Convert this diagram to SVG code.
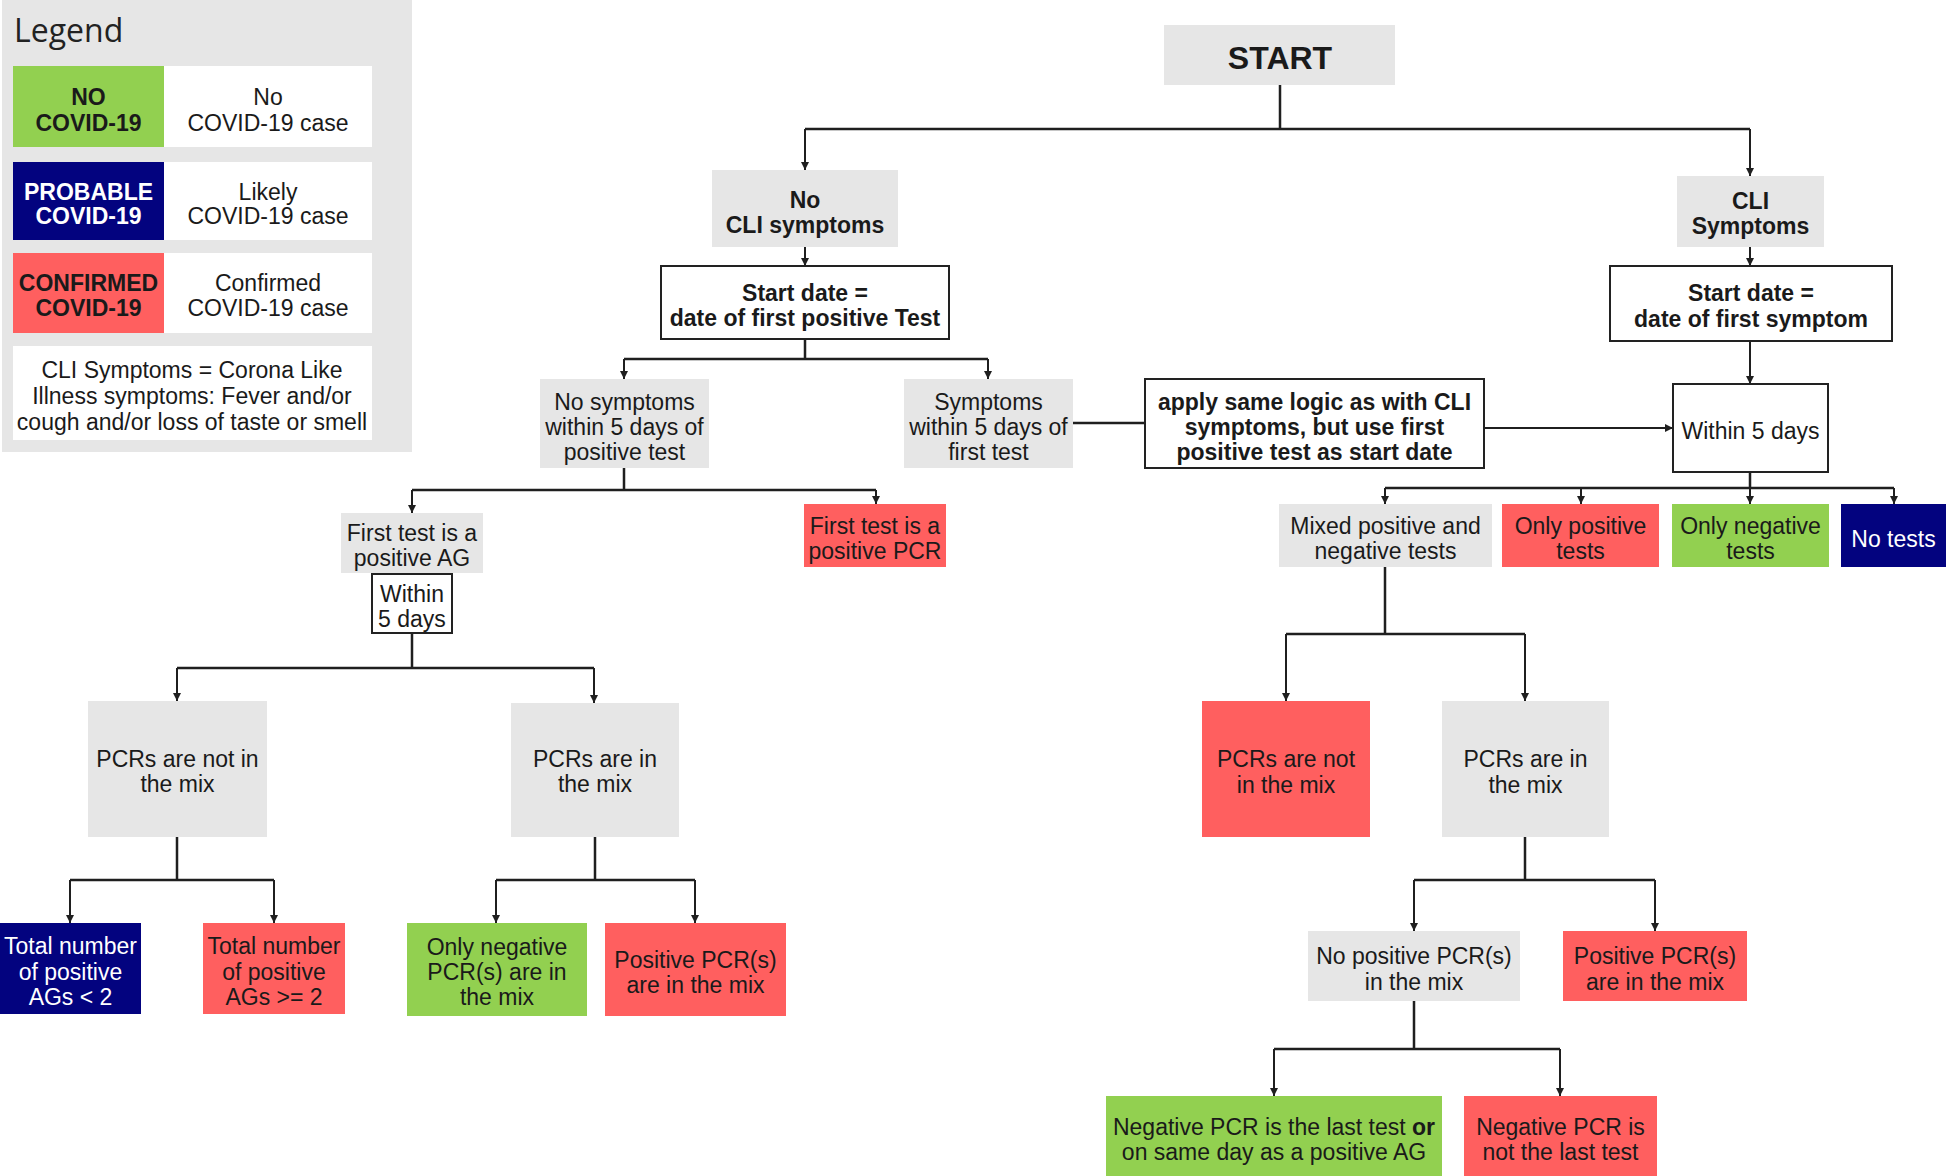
<svg xmlns="http://www.w3.org/2000/svg" width="1946" height="1176" viewBox="0 0 1946 1176">
<defs>
<marker id="ah" markerUnits="userSpaceOnUse" markerWidth="10" markerHeight="10" refX="8" refY="4" orient="auto">
<path d="M0,0 L8,4 L0,8 Z" fill="#1f1f1f"/>
</marker>
<style>
.t{font-family:"Liberation Sans",Arial,sans-serif;font-size:23px;fill:#1a1a1a;text-anchor:middle}
.b{font-weight:bold}
.w{fill:#ffffff}
.grey{fill:#e6e6e6}
.red{fill:#ff5f5f}
.green{fill:#92d050}
.navy{fill:#03037f}
.white{fill:#ffffff}
.box{fill:#ffffff;stroke:#222222;stroke-width:2}
.c{fill:none;stroke:#1f1f1f;stroke-width:2.5}
.a{fill:none;stroke:#1f1f1f;stroke-width:2;marker-end:url(#ah)}
</style>
</defs>
<rect width="1946" height="1176" fill="#ffffff"/>

<g id="legend">
<rect x="2" y="0" width="410" height="452" fill="#e6e6e6"/>
<text x="14" y="42" style="font-family:'Open Sans',sans-serif;font-size:32px;fill:#222">Legend</text>
<rect class="green" x="13" y="66" width="151" height="81"/>
<rect class="white" x="164" y="66" width="208" height="81"/>
<text class="t b" x="88.5" y="105">NO</text>
<text class="t b" x="88.5" y="131">COVID-19</text>
<text class="t" x="268" y="105">No</text>
<text class="t" x="268" y="131">COVID-19 case</text>
<rect class="navy" x="13" y="162" width="151" height="78"/>
<rect class="white" x="164" y="162" width="208" height="78"/>
<text class="t b w" x="88.5" y="200">PROBABLE</text>
<text class="t b w" x="88.5" y="224">COVID-19</text>
<text class="t" x="268" y="200">Likely</text>
<text class="t" x="268" y="224">COVID-19 case</text>
<rect class="red" x="13" y="253" width="151" height="80"/>
<rect class="white" x="164" y="253" width="208" height="80"/>
<text class="t b" x="88.5" y="291">CONFIRMED</text>
<text class="t b" x="88.5" y="316">COVID-19</text>
<text class="t" x="268" y="291">Confirmed</text>
<text class="t" x="268" y="316">COVID-19 case</text>
<rect class="white" x="13" y="346" width="359" height="94"/>
<text class="t" x="192" y="378">CLI Symptoms = Corona Like</text>
<text class="t" x="192" y="404">Illness symptoms: Fever and/or</text>
<text class="t" x="192" y="430">cough and/or loss of taste or smell</text>
</g>

<g id="connectors">
<path class="c" d="M1280,85 V129 M805,129 H1750"/>
<path class="a" d="M805,129 V170"/>
<path class="a" d="M1750,129 V176"/>
<path class="a" d="M805,247 V266"/>
<path class="c" d="M805,339 V359 M624,359 H988"/>
<path class="a" d="M624,359 V379"/>
<path class="a" d="M988,359 V379"/>
<path class="c" d="M1073,423 H1145"/>
<path class="a" d="M1484,428 H1673"/>
<path class="a" d="M1750,247 V266"/>
<path class="a" d="M1750,341 V384"/>
<path class="c" d="M1750,472 V488 M1385,488 H1894"/>
<path class="a" d="M1385,488 V504"/>
<path class="a" d="M1581,488 V504"/>
<path class="a" d="M1750,488 V504"/>
<path class="a" d="M1894,488 V504"/>
<path class="c" d="M1385,567 V634 M1286,634 H1525"/>
<path class="a" d="M1286,634 V701"/>
<path class="a" d="M1525,634 V701"/>
<path class="c" d="M1525,837 V880 M1414,880 H1655"/>
<path class="a" d="M1414,880 V931"/>
<path class="a" d="M1655,880 V931"/>
<path class="c" d="M1414,1001 V1049 M1274,1049 H1560"/>
<path class="a" d="M1274,1049 V1096"/>
<path class="a" d="M1560,1049 V1096"/>
<path class="c" d="M624,468 V490 M412,490 H876"/>
<path class="a" d="M412,490 V513"/>
<path class="a" d="M876,490 V504"/>
<path class="c" d="M412,633 V668 M177,668 H594"/>
<path class="a" d="M177,668 V701"/>
<path class="a" d="M594,668 V703"/>
<path class="c" d="M177,837 V880 M70,880 H274"/>
<path class="a" d="M70,880 V923"/>
<path class="a" d="M274,880 V923"/>
<path class="c" d="M595,837 V880 M496,880 H695"/>
<path class="a" d="M496,880 V923"/>
<path class="a" d="M695,880 V923"/>
</g>

<g id="start">
<rect class="grey" x="1164" y="25" width="231" height="60"/>
<text class="t b" x="1280" y="69" style="font-size:32px">START</text>
</g>
<g id="no-cli">
<rect class="grey" x="712" y="170" width="186" height="77"/>
<text class="t b" x="805" y="208">No</text>
<text class="t b" x="805" y="233">CLI symptoms</text>
</g>
<g id="start-date-test">
<rect class="box" x="661" y="266" width="288" height="73"/>
<text class="t b" x="805" y="301">Start date =</text>
<text class="t b" x="805" y="326">date of first positive Test</text>
</g>
<g id="no-symptoms-5d">
<rect class="grey" x="540" y="379" width="169" height="89"/>
<text class="t" x="624.5" y="410">No symptoms</text>
<text class="t" x="624.5" y="435">within 5 days of</text>
<text class="t" x="624.5" y="460">positive test</text>
</g>
<g id="symptoms-5d">
<rect class="grey" x="904" y="379" width="169" height="89"/>
<text class="t" x="988.5" y="410">Symptoms</text>
<text class="t" x="988.5" y="435">within 5 days of</text>
<text class="t" x="988.5" y="460">first test</text>
</g>
<g id="apply-same">
<rect class="box" x="1145" y="379" width="339" height="89"/>
<text class="t b" x="1314.5" y="410">apply same logic as with CLI</text>
<text class="t b" x="1314.5" y="435">symptoms, but use first</text>
<text class="t b" x="1314.5" y="460">positive test as start date</text>
</g>
<g id="cli">
<rect class="grey" x="1677" y="176" width="147" height="71"/>
<text class="t b" x="1750.5" y="209">CLI</text>
<text class="t b" x="1750.5" y="234">Symptoms</text>
</g>
<g id="start-date-symptom">
<rect class="box" x="1610" y="266" width="282" height="75"/>
<text class="t b" x="1751" y="301">Start date =</text>
<text class="t b" x="1751" y="327">date of first symptom</text>
</g>
<g id="within-5-days">
<rect class="box" x="1673" y="384" width="155" height="88"/>
<text class="t" x="1750.5" y="439">Within 5 days</text>
</g>
<g id="mixed">
<rect class="grey" x="1279" y="504" width="213" height="63"/>
<text class="t" x="1385.5" y="534">Mixed positive and</text>
<text class="t" x="1385.5" y="559">negative tests</text>
</g>
<g id="only-positive">
<rect class="red" x="1502" y="504" width="157" height="63"/>
<text class="t" x="1580.5" y="534">Only positive</text>
<text class="t" x="1580.5" y="559">tests</text>
</g>
<g id="only-negative">
<rect class="green" x="1672" y="504" width="157" height="63"/>
<text class="t" x="1750.5" y="534">Only negative</text>
<text class="t" x="1750.5" y="559">tests</text>
</g>
<g id="no-tests">
<rect class="navy" x="1841" y="504" width="105" height="63"/>
<text class="t w" x="1893.5" y="547">No tests</text>
</g>
<g id="pcr-not-r">
<rect class="red" x="1202" y="701" width="168" height="136"/>
<text class="t" x="1286" y="767">PCRs are not</text>
<text class="t" x="1286" y="793">in the mix</text>
</g>
<g id="pcr-in-r">
<rect class="grey" x="1442" y="701" width="167" height="136"/>
<text class="t" x="1525.5" y="767">PCRs are in</text>
<text class="t" x="1525.5" y="793">the mix</text>
</g>
<g id="no-pos-pcr">
<rect class="grey" x="1308" y="931" width="212" height="70"/>
<text class="t" x="1414" y="964">No positive PCR(s)</text>
<text class="t" x="1414" y="990">in the mix</text>
</g>
<g id="pos-pcr-r">
<rect class="red" x="1563" y="931" width="184" height="70"/>
<text class="t" x="1655" y="964">Positive PCR(s)</text>
<text class="t" x="1655" y="990">are in the mix</text>
</g>
<g id="neg-last">
<rect class="green" x="1106" y="1096" width="336" height="80"/>
<text class="t" x="1274" y="1135">Negative PCR is the last test <tspan class="b">or</tspan></text>
<text class="t" x="1274" y="1160">on same day as a positive AG</text>
</g>
<g id="neg-not-last">
<rect class="red" x="1464" y="1096" width="193" height="80"/>
<text class="t" x="1560.5" y="1135">Negative PCR is</text>
<text class="t" x="1560.5" y="1160">not the last test</text>
</g>
<g id="first-ag">
<rect class="grey" x="341" y="513" width="142" height="60"/>
<text class="t" x="412" y="541">First test is a</text>
<text class="t" x="412" y="566">positive AG</text>
</g>
<g id="within-5-days-l">
<rect class="box" x="372" y="574" width="80" height="59"/>
<text class="t" x="412" y="602">Within</text>
<text class="t" x="412" y="627">5 days</text>
</g>
<g id="first-pcr">
<rect class="red" x="804" y="504" width="142" height="63"/>
<text class="t" x="875" y="534">First test is a</text>
<text class="t" x="875" y="559">positive PCR</text>
</g>
<g id="pcr-not-l">
<rect class="grey" x="88" y="701" width="179" height="136"/>
<text class="t" x="177.5" y="767">PCRs are not in</text>
<text class="t" x="177.5" y="792">the mix</text>
</g>
<g id="pcr-in-l">
<rect class="grey" x="511" y="703" width="168" height="134"/>
<text class="t" x="595" y="767">PCRs are in</text>
<text class="t" x="595" y="792">the mix</text>
</g>
<g id="ag-lt2">
<rect class="navy" x="0" y="923" width="141" height="91"/>
<text class="t w" x="70.5" y="954">Total number</text>
<text class="t w" x="70.5" y="980">of positive</text>
<text class="t w" x="70.5" y="1005">AGs &lt; 2</text>
</g>
<g id="ag-ge2">
<rect class="red" x="203" y="923" width="142" height="91"/>
<text class="t" x="274" y="954">Total number</text>
<text class="t" x="274" y="980">of positive</text>
<text class="t" x="274" y="1005">AGs &gt;= 2</text>
</g>
<g id="only-neg-pcr">
<rect class="green" x="407" y="923" width="180" height="93"/>
<text class="t" x="497" y="955">Only negative</text>
<text class="t" x="497" y="980">PCR(s) are in</text>
<text class="t" x="497" y="1005">the mix</text>
</g>
<g id="pos-pcr-l">
<rect class="red" x="605" y="923" width="181" height="93"/>
<text class="t" x="695.5" y="968">Positive PCR(s)</text>
<text class="t" x="695.5" y="993">are in the mix</text>
</g>
</svg>
